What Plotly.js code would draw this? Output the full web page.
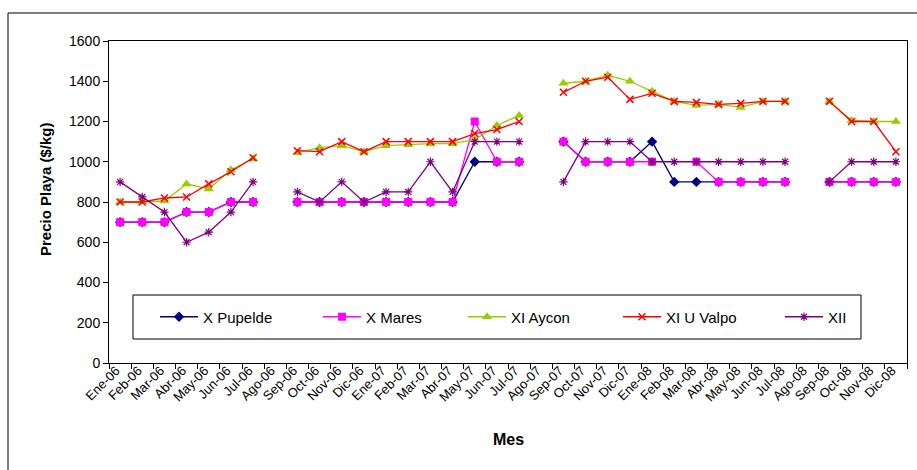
<!DOCTYPE html>
<html>
<head>
<meta charset="utf-8">
<script src="https://cdn.plot.ly/plotly-3.0.1.min.js"></script>
<style>html,body{margin:0;padding:0;background:#fff}#chart{width:917px;height:470px}</style>
</head>
<body>
<div id="chart"></div>
<script>
var months = ['Ene-06','Feb-06','Mar-06','Abr-06','May-06','Jun-06','Jul-06','Ago-06','Sep-06','Oct-06','Nov-06','Dic-06',
              'Ene-07','Feb-07','Mar-07','Abr-07','May-07','Jun-07','Jul-07','Ago-07','Sep-07','Oct-07','Nov-07','Dic-07',
              'Ene-08','Feb-08','Mar-08','Abr-08','May-08','Jun-08','Jul-08','Ago-08','Sep-08','Oct-08','Nov-08','Dic-08'];

var pupelde = [700,700,700,750,750,800,800,null, 800,800,800,800,800,800,800,800,1000,1000,1000,null,
               1100,1000,1000,1000,1100,900,900,900,900,900,900,null, 900,900,900,900];
var mares   = [700,700,700,750,750,800,800,null, 800,800,800,800,800,800,800,800,1200,1000,1000,null,
               1100,1000,1000,1000,1000,null,1000,900,900,900,900,null, 900,900,900,900];
var aycon   = [800,800,805,890,865,960,1015,null, 1045,1070,1080,1050,1080,1085,1090,1090,1110,1180,1230,null,
               1390,1400,1430,1400,1350,1300,1280,1285,1270,1300,1300,null, 1300,1205,1200,1200];
var uvalpo  = [800,800,820,825,890,950,1020,null, 1055,1050,1100,1050,1100,1100,1100,1100,1140,1160,1200,null,
               1345,1400,1420,1310,1340,1300,1295,1285,1290,1300,1300,null, 1300,1200,1200,1050];
var xii     = [900,825,750,600,650,750,900,null, 850,800,900,800,850,850,1000,850,1100,1100,1100,null,
               900,1100,1100,1100,1000,1000,1000,1000,1000,1000,1000,null, 900,1000,1000,1000];

var seriesNames = ['X Pupelde','X Mares','XI Aycon','XI U Valpo','XII'];
var yTicks = [0,200,400,600,800,1000,1200,1400,1600];

// layout geometry (pixels)
var W = 917, H = 470, L = 109, R = 907, T = 41, B = 363;
var pw = R - L, ph = B - T;
function px(x){ return (x - L) / pw; }
function py(y){ return (B - y) / ph; }

var styles = [
  {color:'#000080', symbol:'diamond', size:8, lineW:0},
  {color:'#FF00FF', symbol:'square', size:8, lineW:0},
  {color:'#99CC00', symbol:'triangle-up', size:9, lineW:0},
  {color:'#FF0000', symbol:'x-thin-open', size:7, lineW:1.5},
  {color:'#800080', symbol:'asterisk-open', size:7, lineW:1.2}
];
var data = [pupelde, mares, aycon, uvalpo, xii];
var legendX = [155, 318, 463, 618, 780];
var legendIds = ['legend','legend2','legend3','legend4','legend5'];

var traces = data.map(function(vals, i){
  var s = styles[i];
  return {
    type:'scatter', mode:'lines+markers', x: months, y: vals, name: seriesNames[i],
    legend: legendIds[i],
    line:{color:s.color, width:1.3},
    marker:{color:s.color, symbol:s.symbol, size:s.size, line:{color:s.color, width:s.lineW}},
    connectgaps:false
  };
});

var font = 'Arial, "Liberation Sans", sans-serif';
var layout = {
  width: W, height: H,
  margin:{l:L, r:W-R, t:T, b:H-B},
  paper_bgcolor:'#fff', plot_bgcolor:'#fff',
  showlegend:true,
  font:{family:font, color:'#000'},
  xaxis:{
    type:'category', range:[-0.5, 35.5], tickangle:-45, tickson:'boundaries',
    ticklabelstandoff:-6, ticklabelshift:-4,
    ticks:'outside', ticklen:5, tickcolor:'#000', showline:true, linecolor:'#000', linewidth:1,
    mirror:true, showgrid:false, zeroline:false, tickfont:{size:13, family:font, color:'#000'}
  },
  yaxis:{
    range:[0,1600], tickvals:yTicks, ticktext:yTicks.map(String),
    ticks:'outside', ticklen:5, tickcolor:'#000', showline:true, linecolor:'#000', linewidth:1,
    mirror:true, showgrid:false, zeroline:false, tickfont:{size:14, family:font, color:'#000'}
  },
  shapes:[
    {type:'rect', xref:'paper', yref:'paper', x0:px(8), x1:px(920), y0:py(480), y1:py(13),
     line:{color:'#000', width:1}, fillcolor:'rgba(0,0,0,0)', layer:'below'},
    {type:'rect', xref:'paper', yref:'paper', x0:px(133), x1:px(861), y0:py(339), y1:py(295),
     line:{color:'#000', width:1}, fillcolor:'#fff', layer:'below'}
  ],
  annotations:[
    {text:'<b>Mes</b>', xref:'paper', yref:'paper', x:0.5, y:py(439), xanchor:'center', yanchor:'middle',
     showarrow:false, font:{size:16, family:font, color:'#000'}},
    {text:'<b>Precio Playa ($/kg)</b>', xref:'paper', yref:'paper', x:px(45), y:py(190), textangle:-90,
     xanchor:'center', yanchor:'middle', showarrow:false, font:{size:15, family:font, color:'#000'}}
  ]
};
legendIds.forEach(function(id, i){
  layout[id] = {
    x: px(legendX[i]), y: py(317), xanchor:'left', yanchor:'middle',
    orientation:'h', bgcolor:'rgba(0,0,0,0)', borderwidth:0, itemwidth:38,
    font:{size:15, family:font, color:'#000'}
  };
});

Plotly.newPlot('chart', traces, layout, {displayModeBar:false, staticPlot:true});
</script>
</body>
</html>
